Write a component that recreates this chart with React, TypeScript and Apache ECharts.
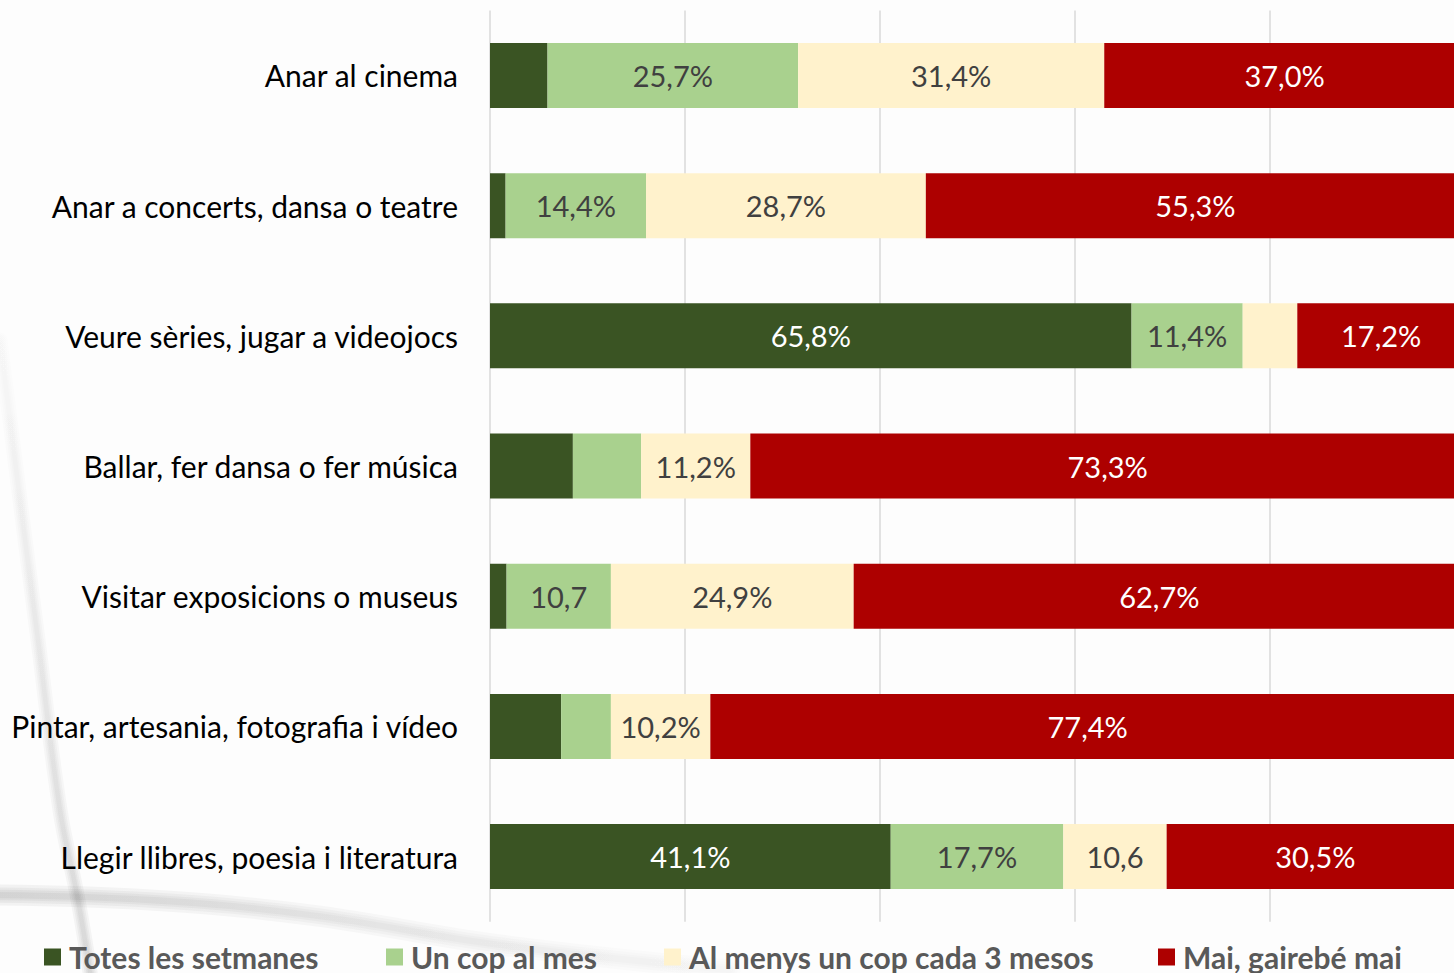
import React, { useEffect, useRef } from "react";
import * as echarts from "echarts";

const categories = [
  "Anar al cinema",
  "Anar a concerts, dansa o teatre",
  "Veure sèries, jugar a videojocs",
  "Ballar, fer dansa o fer música",
  "Visitar exposicions o museus",
  "Pintar, artesania, fotografia i vídeo",
  "Llegir llibres, poesia i literatura",
];

const seriesNames = [
  "Totes les setmanes",
  "Un cop al mes",
  "Al menys un cop cada 3 mesos",
  "Mai, gairebé mai",
];

const totesValues = [5.9, 1.6, 65.8, 8.5, 1.7, 7.3, 41.1];
const copMesValues = [25.7, 14.4, 11.4, 7.0, 10.7, 5.1, 17.7];
const tresMesosValues = [31.4, 28.7, 5.6, 11.2, 24.9, 10.2, 10.6];
const maiValues = [37.0, 55.3, 17.2, 73.3, 62.7, 77.4, 30.5];

const totesLabels = ["", "", "65,8%", "", "", "", "41,1%"];
const copMesLabels = ["25,7%", "14,4%", "11,4%", "", "10,7", "", "17,7%"];
const tresMesosLabels = ["31,4%", "28,7%", "", "11,2%", "24,9%", "10,2%", "10,6"];
const maiLabels = ["37,0%", "55,3%", "17,2%", "73,3%", "62,7%", "77,4%", "30,5%"];

const axisMin = 0;
const axisMax = 100;
const axisInterval = 20;

const colors = ["#3a5423", "#a9d18e", "#fff2cc", "#ad0000"];
const labelColors = ["#ffffff", "#404040", "#404040", "#ffffff"];
const legendLefts = [44, 386, 664, 1158];

const FONT = "Lato, 'Open Sans', sans-serif";

function softStroke(
  points: number[][],
  width: number,
  a0: number,
  a1: number,
  horizontal: boolean
) {
  const layers = [3, 2.2, 1.5, 0.9];
  return layers.map((k) => ({
    type: "polyline",
    silent: true,
    z: -10,
    shape: { points, smooth: 0.4 },
    style: {
      stroke: {
        type: "linear",
        x: 0,
        y: 0,
        x2: horizontal ? 1 : 0,
        y2: horizontal ? 0 : 1,
        colorStops: [
          { offset: 0, color: `rgba(0,0,0,${a0})` },
          { offset: 1, color: `rgba(0,0,0,${a1})` },
        ],
      },
      lineWidth: width * k,
      fill: null,
      lineCap: "round",
    },
  }));
}

export default function App() {
  const ref = useRef<HTMLDivElement>(null);

  useEffect(() => {
    if (!ref.current) return;
    const chart = echarts.init(ref.current, undefined, { renderer: "svg" });

    const valueSets = [totesValues, copMesValues, tresMesosValues, maiValues];
    const labelSets = [totesLabels, copMesLabels, tresMesosLabels, maiLabels];

    const series = seriesNames.map((name, s) => ({
      name,
      type: "bar",
      stack: "total",
      barWidth: 65,
      itemStyle: { color: colors[s] },
      label: {
        show: true,
        position: "inside",
        color: labelColors[s],
        fontFamily: FONT,
        fontSize: 29,
      },
      data: valueSets[s].map((v, i) => ({
        value: v,
        label: {
          show: labelSets[s][i] !== "",
          formatter: labelSets[s][i],
        },
      })),
    }));

    const legends = seriesNames.map((name, s) => ({
      data: [name],
      left: legendLefts[s],
      top: 942,
      padding: 0,
      itemWidth: 17,
      itemHeight: 17,
      icon: "rect",
      selectedMode: false,
      textStyle: {
        fontFamily: FONT,
        fontWeight: "bold",
        fontSize: 30,
        lineHeight: 29,
        color: "#595959",
        padding: [0, 0, 0, 3],
      },
    }));

    chart.setOption({
      animation: false,
      backgroundColor: "#fdfdfd",
      graphic: [
        ...softStroke(
          [[0, 340], [20, 500], [38, 640], [60, 810], [78, 900], [92, 985]],
          5,
          0.006,
          0.04,
          false
        ),
        ...softStroke(
          [[-10, 895], [150, 900], [310, 915], [500, 945], [730, 970]],
          7,
          0.045,
          0.008,
          true
        ),
      ],
      grid: {
        left: 490,
        right: 5,
        top: 10.4,
        bottom: 51.3,
        containLabel: false,
      },
      legend: legends,
      xAxis: {
        type: "value",
        min: axisMin,
        max: axisMax,
        interval: axisInterval,
        axisLabel: { show: false },
        axisLine: { show: false },
        axisTick: { show: false },
        splitLine: { show: true, lineStyle: { color: "#d9d9d9", width: 1.5 } },
      },
      yAxis: {
        type: "category",
        inverse: true,
        data: categories,
        axisLine: { show: false },
        axisTick: { show: false },
        axisLabel: {
          margin: 32,
          fontFamily: FONT,
          fontSize: 30,
          color: "#000000",
        },
      },
      series,
    });

    return () => chart.dispose();
  }, []);

  return (
    <div
      style={{
        position: "fixed",
        left: 0,
        top: 0,
        width: 1454,
        height: 973,
        overflow: "hidden",
        background: "#fdfdfd",
      }}
    >
      <div ref={ref} style={{ width: 1470, height: 973 }} />
    </div>
  );
}
